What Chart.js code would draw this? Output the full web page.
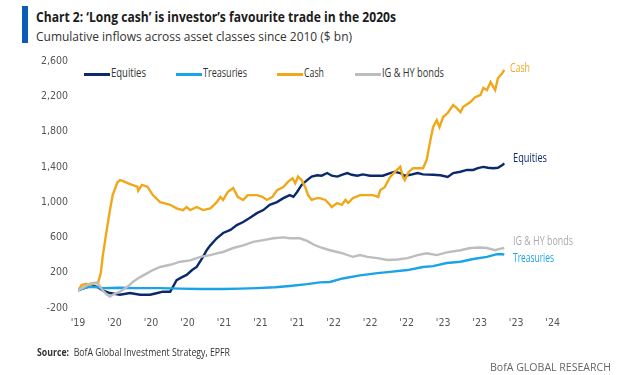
<!DOCTYPE html>
<html>
<head>
<meta charset="utf-8">
<script src="https://cdn.jsdelivr.net/npm/chart.js@4"></script>
<style>
  html, body { margin: 0; padding: 0; background: #fff; }
  body { width: 623px; height: 375px; position: relative; overflow: hidden;
         font-family: "Open Sans", "DejaVu Sans Condensed", sans-serif; }
  #chart { position: absolute; left: 0; top: 0; }
  .fit { position: absolute; white-space: nowrap; transform-origin: left center; line-height: 1.2; }
  .bar { position: absolute; left: 22px; top: 6px; width: 6px; height: 37px; background: #0a5cb8; }
  .title { left: 36px; top: 8px; font-size: 14.5px; font-weight: bold; color: #1b1b1b; }
  .subtitle { left: 36px; top: 28px; font-size: 13.5px; color: #333; }
  .legend { position: absolute; top: 66px; left: 84px; font-size: 12px; color: #333; }
  .legend i { position: absolute; top: 7px; width: 26px; height: 3px; }
  .legend .fit { top: 0; }
  .endlab { font-size: 12px; }
  .source { left: 37px; top: 345px; font-size: 11px; color: #333; }
  .brand { left: 490px; top: 360px; font-size: 11px; color: #666; }
</style>
</head>
<body>
<div class="bar"></div>
<div class="fit title" data-w="360">Chart 2: ‘Long cash’ is investor’s favourite trade in the 2020s</div>
<div class="fit subtitle" data-w="316">Cumulative inflows across asset classes since 2010 ($ bn)</div>
<div class="legend" id="legend"></div>
<canvas id="chart" width="623" height="375"></canvas>
<div class="fit endlab" data-w="20" style="left:510px; top:61px; color:#f0a81a;">Cash</div>
<div class="fit endlab" data-w="34" style="left:513px; top:151px; color:#0b2a6b;">Equities</div>
<div class="fit endlab" data-w="60" style="left:513px; top:234px; color:#aaaaaa;">IG &amp; HY bonds</div>
<div class="fit endlab" data-w="41" style="left:513px; top:251px; color:#1aa3e8;">Treasuries</div>
<div class="fit source" data-w="193"><b>Source:</b>&nbsp; BofA Global Investment Strategy, EPFR</div>
<div class="fit brand" data-w="121">BofA GLOBAL RESEARCH</div>
<script>
// months after the first point, one axis label every 4 months
const tickLabels = ["'19", "'20", "'20", "'20", "'21", "'21", "'21", "'22", "'22", "'22", "'23", "'23", "'23", "'24"];

const cashMonths = [0.0, 0.4, 0.9, 1.3, 1.8, 2.2, 2.5, 2.7, 3.2, 3.5, 3.8, 4.3, 4.6, 4.9, 5.7, 6.5, 6.6, 7.0, 7.6, 8.2, 9.0, 10.1, 10.8, 11.5,
  11.9, 12.3, 13.0, 13.7, 14.5, 15.2, 15.6, 15.9, 16.4, 17.0, 17.5, 18.1, 18.6, 19.6, 20.2, 20.7, 21.3, 21.8, 22.5, 23.0, 23.5, 23.8,
  24.1, 24.5, 24.9, 25.2, 25.6, 26.2, 26.5, 27.1, 27.6, 27.8, 28.4, 28.9, 29.3, 29.6, 30.1, 30.9, 31.7, 32.3, 32.9, 33.1, 33.6, 34.2,
  34.7, 35.3, 35.6, 35.8, 36.2, 36.7, 37.8, 38.2, 38.6, 38.9, 39.3, 39.6, 40.0, 40.5, 41.1, 41.5, 41.9, 42.2, 43.0, 43.5, 44.1, 44.4,
  44.8, 45.2, 45.7, 46.0, 46.5, 46.7];
const cashValues = [0, 60, 75, 60, 80, 85, 200, 380, 720, 910, 1080, 1220, 1250, 1240, 1205, 1175, 1130, 1195, 1175, 1080, 1000, 970, 930, 910,
  945, 910, 945, 910, 930, 1000, 1060, 1025, 1115, 1160, 1060, 1025, 1080, 1080, 1060, 1025, 1060, 1135, 1170, 1230, 1270, 1215,
  1290, 1250, 1170, 1080, 1025, 1045, 1045, 1025, 970, 945, 990, 970, 1025, 990, 1045, 1080, 1080, 1080, 1060, 1135, 1170, 1285,
  1340, 1400, 1285, 1250, 1340, 1385, 1385, 1480, 1700, 1850, 1930, 1850, 1965, 2010, 2100, 2065, 2020, 2080, 2135, 2190, 2215, 2295,
  2270, 2360, 2270, 2405, 2465, 2500];

const equityMonths = [0.0, 0.8, 1.5, 2.1, 2.7, 3.5, 4.6, 5.7, 6.8, 7.9, 8.7, 9.3, 10.1, 10.4, 10.8, 11.4, 11.9, 12.5, 13.0, 13.7, 14.1, 14.5,
  15.2, 15.9, 16.7, 17.4, 18.1, 18.8, 19.6, 20.3, 21.0, 21.8, 22.5, 23.2, 23.6, 24.0, 24.5, 25.1, 25.6, 26.2, 26.7, 27.3, 27.8, 28.4,
  28.9, 29.5, 30.0, 30.6, 31.2, 32.0, 32.8, 33.4, 34.2, 34.7, 35.3, 35.8, 36.4, 37.2, 37.8, 38.9, 39.7, 40.5, 41.1, 41.9, 42.6, 43.3,
  43.8, 44.4, 44.9, 45.5, 46.0, 46.5, 46.7];
const equityValues = [0, 30, 55, 40, 0, -30, -50, -30, -50, -50, -30, -15, -15, 40, 115, 150, 175, 230, 265, 380, 455, 510,
  590, 650, 685, 740, 775, 820, 875, 910, 970, 1000, 1045, 1080, 1060, 1115, 1195, 1250, 1290, 1305, 1300, 1330, 1300, 1290,
  1310, 1330, 1310, 1300, 1315, 1300, 1300, 1300, 1330, 1345, 1330, 1300, 1310, 1330, 1315, 1310, 1305, 1285, 1330, 1345, 1365, 1365,
  1385, 1400, 1390, 1385, 1390, 1420, 1440];

const bondMonths = [0.0, 0.7, 1.3, 2.1, 2.7, 3.2, 3.5, 3.8, 4.6, 5.4, 6.0, 6.8, 7.6, 8.2, 9.0, 10.1, 11.2, 12.3, 13.4, 14.5, 15.2, 15.9,
  17.0, 18.1, 19.2, 20.3, 21.4, 22.5, 23.2, 24.3, 25.1, 25.8, 26.5, 27.6, 28.4, 29.0, 30.1, 30.9, 31.7, 32.8, 33.9, 35.0, 36.1, 37.2,
  38.2, 39.3, 40.4, 41.9, 43.0, 44.1, 44.8, 45.7, 46.2, 46.7];
const bondValues = [0, 40, 75, 90, 0, -50, -70, -50, -15, 40, 95, 150, 195, 230, 265, 290, 325, 340, 380, 400, 420, 435,
  480, 510, 550, 570, 590, 600, 590, 590, 560, 520, 490, 455, 435, 420, 380, 400, 380, 365, 345, 350, 365, 400,
  420, 400, 430, 455, 480, 485, 480, 455, 470, 480];

const treasuryMonths = [0.0, 0.7, 1.3, 2.1, 2.7, 4.6, 6.5, 9.0, 11.2, 13.4, 15.9, 17.8, 19.6, 21.6, 23.2, 25.1, 26.5, 27.6, 29.0, 30.9,
  32.8, 34.2, 36.1, 37.8, 38.9, 40.4, 41.9, 43.3, 44.8, 45.9, 46.5, 46.7];
const treasuryValues = [0, 25, 40, 35, 25, 30, 25, 25, 20, 15, 15, 20, 25, 35, 50, 70, 90, 95, 135, 170,
  195, 210, 230, 265, 275, 310, 325, 355, 380, 410, 410, 405];

function points(xs, ys) {
  return xs.map((x, i) => ({ x: x, y: ys[i] }));
}

const FONT = '"DejaVu Sans Condensed", "Open Sans", sans-serif';

const series = [
  { label: "Equities", color: "#0b2a6b", data: points(equityMonths, equityValues) },
  { label: "Treasuries", color: "#1aa3e8", data: points(treasuryMonths, treasuryValues) },
  { label: "Cash", color: "#f0a81a", data: points(cashMonths, cashValues) },
  { label: "IG & HY bonds", color: "#bdbdbd", data: points(bondMonths, bondValues) },
];

// legend drawn as html over the plot, like the original
const legendX = [0, 92, 193, 271];
const legendW = [35, 44, 20, 62];
const legendEl = document.getElementById("legend");
series.forEach(function (s, i) {
  const line = document.createElement("i");
  line.style.left = legendX[i] + "px";
  line.style.background = s.color;
  legendEl.appendChild(line);
  const txt = document.createElement("span");
  txt.className = "fit";
  txt.style.left = (legendX[i] + 27) + "px";
  txt.dataset.w = legendW[i];
  txt.textContent = s.label;
  legendEl.appendChild(txt);
});

// squeeze text to the narrow widths of the original font
document.querySelectorAll(".fit").forEach(function (el) {
  const w = el.getBoundingClientRect().width;
  el.style.transform = "scaleX(" + (Number(el.dataset.w) / w) + ")";
});

new Chart(document.getElementById("chart"), {
  type: "line",
  data: {
    datasets: series.slice().reverse().map(s => ({
      label: s.label,
      data: s.data,
      borderColor: s.color,
      borderWidth: 2.4,
      pointRadius: 0,
      tension: 0,
      fill: false,
    })),
  },
  options: {
    responsive: false,
    devicePixelRatio: 1,
    animation: false,
    layout: { padding: { left: 0, top: 61, right: 53, bottom: 42 } },
    plugins: { legend: { display: false }, tooltip: { enabled: false } },
    scales: {
      x: {
        type: "linear",
        min: 0,
        max: 53.9,
        afterFit: function (scale) { scale.height = 25; },
        afterBuildTicks: function (scale) {
          scale.ticks = tickLabels.map((_, i) => ({ value: i * 4 }));
        },
        ticks: {
          padding: 9,
          maxRotation: 0,
          autoSkip: false,
          color: "#555",
          font: { family: FONT, size: 10.5 },
          callback: function (v) { return tickLabels[Math.round(v / 4)]; },
        },
        grid: { display: false, drawTicks: false },
        border: { display: false },
      },
      y: {
        min: -200,
        max: 2600,
        afterFit: function (scale) { scale.width = 78; },
        ticks: {
          stepSize: 400,
          padding: 10,
          color: "#555",
          font: { family: FONT, size: 10.5 },
          callback: function (v) { return v.toLocaleString("en-US"); },
        },
        grid: {
          drawTicks: false,
          color: ctx => (ctx.tick && ctx.tick.value === 0 ? "#222" : "rgba(0,0,0,0)"),
          lineWidth: 1,
        },
        border: { display: false },
      },
    },
  },
});
</script>
</body>
</html>
